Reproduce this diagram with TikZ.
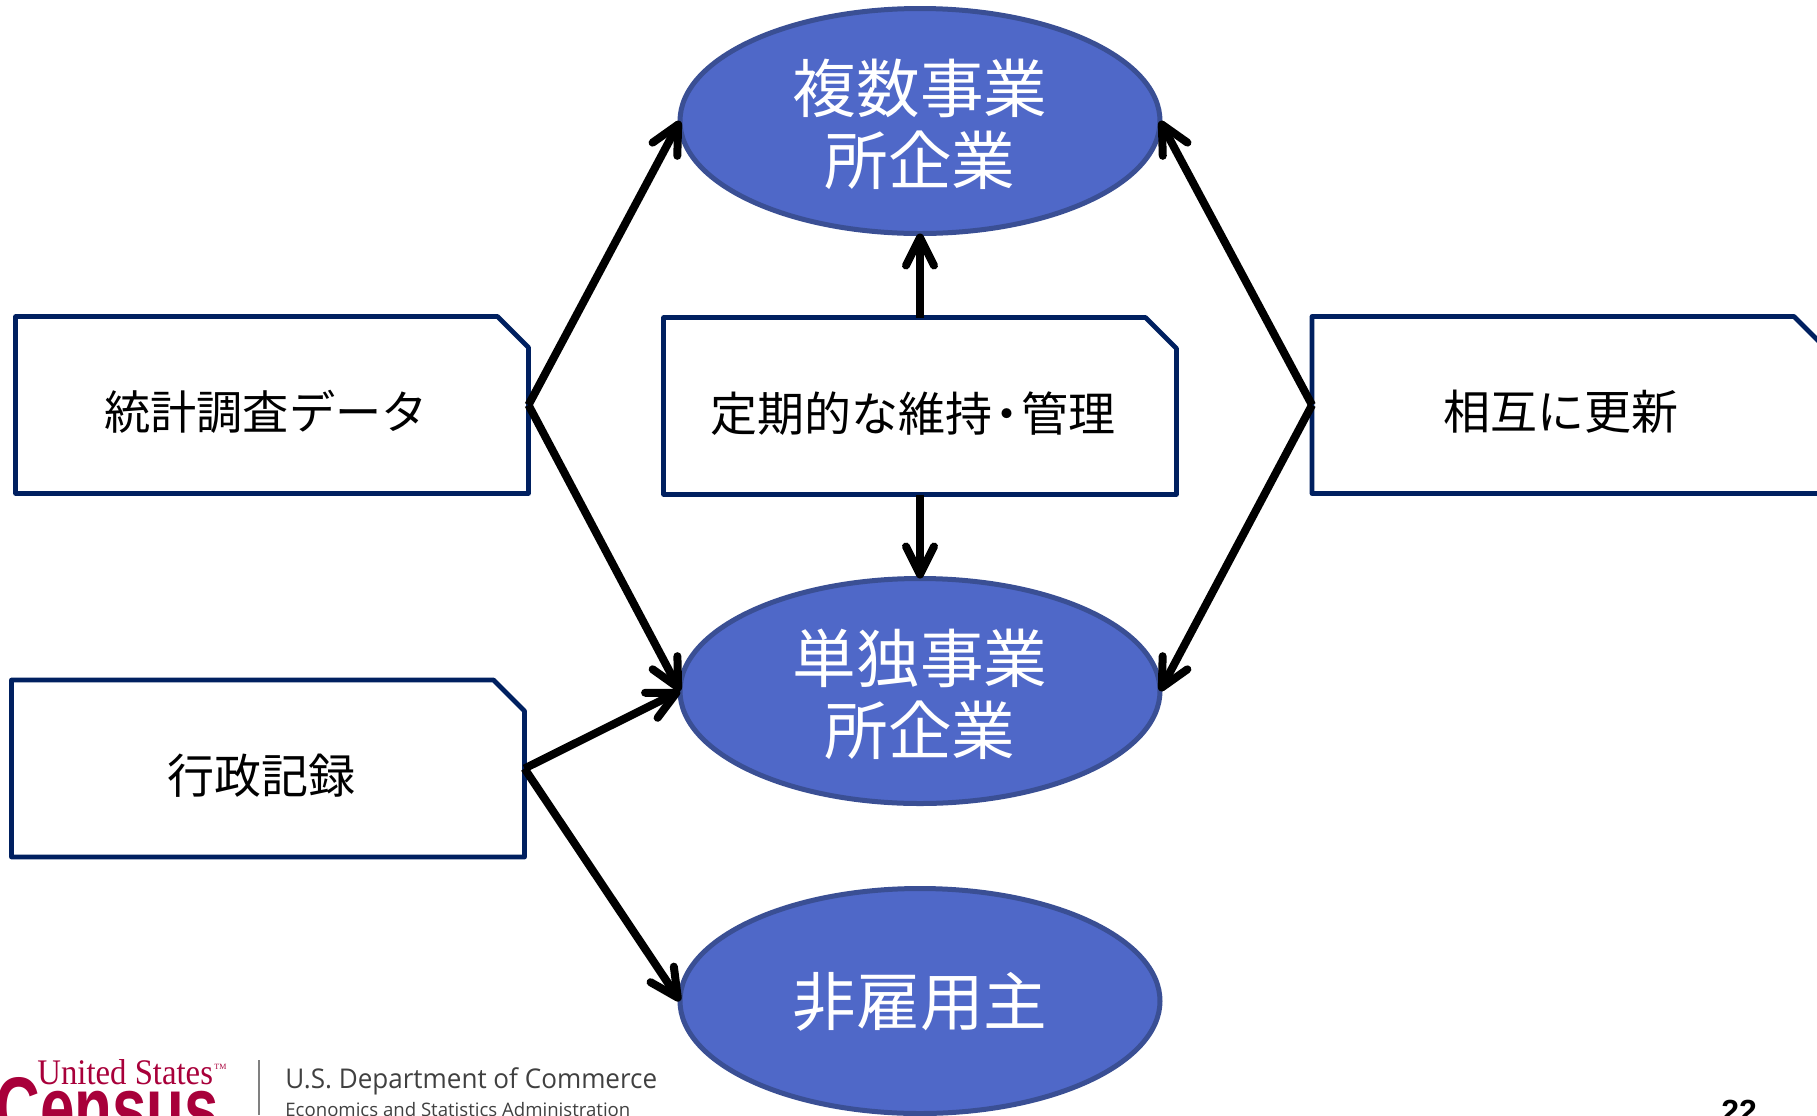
\documentclass[tikz,border=0pt]{standalone}
\usepackage{fontspec}
\setmainfont{Open Sans}
\newfontfamily\cjk{Noto Sans CJK JP}
\newfontfamily\serifl{Liberation Serif}
\newfontfamily\sansl{Liberation Sans}
\usetikzlibrary{arrows.meta,shapes.geometric}
\definecolor{navyline}{HTML}{002060}
\definecolor{ellfill}{HTML}{4F68C8}
\definecolor{elledge}{HTML}{3A4F94}
\definecolor{censusred}{HTML}{A8003A}
\tikzset{
  entity/.style={ellipse,draw=elledge,fill=ellfill,line width=2.5pt,minimum width=240pt,minimum height=112.5pt,inner sep=0pt,outer sep=0pt},
  entitytext/.style={text=white,align=center,inner sep=0pt,font=\cjk\fontsize{31.8}{36}\selectfont},
  plate/.style={rectangle,inner sep=0pt,outer sep=0pt,minimum width=#1,minimum height=88.5pt},
  platetext/.style={font=\cjk\fontsize{23.5}{26}\selectfont,text=black,inner sep=0pt},
  outline/.style={draw=navyline,fill=white,line width=2.4pt,line join=round},
  link/.style={line width=4pt,black,-{Straight Barb[round,length=14pt,width=14pt,line width=4pt]}},
}
\newcommand{\snipbox}[1]{\path[outline] (#1.north west) -- ([xshift=-15.5pt]#1.north east) -- ([yshift=-15.5pt]#1.north east) -- (#1.south east) -- (#1.south west) -- cycle;}
\begin{document}
\begin{tikzpicture}[x=0.5pt,y=-0.5pt]
\useasboundingbox (0,0) rectangle (1817,1115);
\clip (0,0) rectangle (1817,1115);
% ellipses
\node[entity] (multi) at (920,121) {};
\node[entity] (single) at (920,691) {};
\node[entity] (nonemp) at (920,1001) {};
\node[entitytext] (multit) at (920,124) {複数事業\\所企業};
\node[entitytext] (singlet) at (920,694) {単独事業\\所企業};
\node[entitytext] (nonempt) at (920,1002) {非雇用主};
% boxes
\node[plate=256.5pt] (survey) at (272,405) {};
\node[plate=256.5pt] (maint) at (920,406) {};
\node[plate=256.5pt] (update) at (1568.5,405) {};
\node[plate=256.5pt] (admin) at (268,768.5) {};
\snipbox{survey}\snipbox{maint}\snipbox{update}\snipbox{admin}
\node[platetext,font=\cjk\fontsize{23.1}{26}\selectfont] (surveyt) at (266,412) {統計調査データ};
\node[platetext] (maintt) at (913,414) {定期的な維持\kern-0.2em・\kern-0.2em 管理};
\node[platetext] (updatet) at (1561,412) {相互に更新};
\node[platetext] (admint) at (261,776) {行政記録};
% connectors
\draw[link] (survey.east) -- (multi.west);
\draw[link] (survey.east) -- (single.west);
\draw[link] (admin.east) -- (single.west);
\draw[link] (admin.east) -- (nonemp.west);
\draw[link] (maint.north) -- (multi.south);
\draw[link] (maint.south) -- (single.north);
\draw[link] (update.west) -- (multi.east);
\draw[link] (update.west) -- (single.east);
% footer
\node[anchor=base west,inner sep=0pt,text=censusred,font=\serifl\fontsize{18}{20}\selectfont] (us) at (37,1084) {\scalebox{0.91}[1]{United States}};
\node[anchor=base west,inner sep=0pt,text=censusred,font=\serifl\fontsize{4}{5}\selectfont] (tm) at (214,1069) {TM};
\node[anchor=base west,inner sep=0pt,text=censusred,font=\sansl\bfseries\fontsize{43}{45}\selectfont] (census) at (-5,1137) {\scalebox{0.72}[1]{Census}};
\coordinate (sepa) at (259,1060);
\coordinate (sepb) at (259,1115);
\draw[gray,line width=1.2pt] (sepa) -- (sepb);
\node[anchor=base west,inner sep=0pt,text=black!75,font=\fontsize{13.6}{16}\selectfont] (doc) at (285,1088) {\scalebox{0.958}[1]{U.S. Department of Commerce}};
\node[anchor=base west,inner sep=0pt,text=black!75,font=\fontsize{9.3}{10}\selectfont] (esa) at (285,1116) {Economics and Statistics Administration};
\node[anchor=base west,inner sep=0pt,text=black,font=\sansl\bfseries\fontsize{16}{18}\selectfont] (page) at (1721,1122) {22};
\end{tikzpicture}
\end{document}
